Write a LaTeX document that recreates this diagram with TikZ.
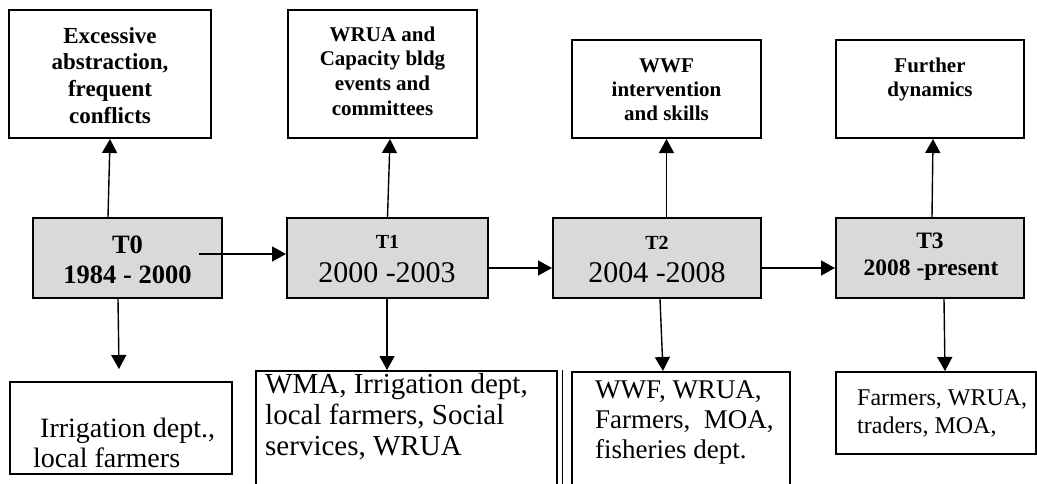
\documentclass[tikz,border=0pt]{standalone}
\usepackage{fontspec}
\setmainfont{Liberation Serif}
\usetikzlibrary{arrows.meta}
\begin{document}
\begin{tikzpicture}[x=1pt,y=-1pt,
  outbox/.style={draw=black, line width=2pt, inner sep=0pt},
  period/.style={outbox, fill=black!15, minimum height=80pt},
  link/.style={draw=black, line width=1.4pt, -{Triangle[length=14pt,width=15pt]}},
  ctxt/.style={inner sep=0pt, anchor=base},
  ltxt/.style={inner sep=0pt, anchor=base west}]
% canvas
\fill[white] (0,0) rectangle (1037,483);
\clip (0,0) rectangle (1037,483);

% outcome boxes (top row)
\node[outbox, minimum width=202pt, minimum height=128pt] (a1) at (110,74) {};
\node[outbox, minimum width=189pt, minimum height=128pt] (a2) at (382.5,74) {};
\node[outbox, minimum width=189pt, minimum height=98pt] (a3) at (666.5,89) {};
\node[outbox, minimum width=188pt, minimum height=98pt] (a4) at (930,89) {};
\node[ctxt, font=\fontsize{23}{26.7}\selectfont\bfseries] (a1t) at (110,43)
  {\parbox[t]{190pt}{\centering Excessive\\abstraction,\\frequent\\conflicts}};
\node[ctxt, font=\fontsize{21}{24.7}\selectfont\bfseries] (a2t) at (382.5,41)
  {\parbox[t]{180pt}{\centering WRUA and\\Capacity bldg\\events and\\committees}};
\node[ctxt, font=\fontsize{21}{24}\selectfont\bfseries] (a3t) at (666.5,72)
  {\parbox[t]{180pt}{\centering WWF\\intervention\\and skills}};
\node[ctxt, font=\fontsize{21}{24}\selectfont\bfseries] (a4t) at (930,72)
  {\parbox[t]{180pt}{\centering Further\\dynamics}};

% time periods (middle row)
\node[period, minimum width=189pt] (t0) at (127.5,258) {};
\node[period, minimum width=201pt] (t1) at (387.5,258) {};
\node[period, minimum width=208pt] (t2) at (657,258) {};
\node[period, minimum width=188pt] (t3) at (930,258) {};
\node[ctxt, font=\fontsize{26.5}{30}\selectfont\bfseries] (t0a) at (127.5,253) {T0};
\node[ctxt, font=\fontsize{26.5}{30}\selectfont\bfseries] (t0b) at (127.5,283) {1984 - 2000};
\node[ctxt, font=\fontsize{20}{24}\selectfont\bfseries] (t1a) at (387.5,248) {T1};
\node[ctxt, font=\fontsize{30}{34}\selectfont] (t1b) at (387,282) {2000 -2003};
\node[ctxt, font=\fontsize{20}{24}\selectfont\bfseries] (t2a) at (657,249) {T2};
\node[ctxt, font=\fontsize{30}{34}\selectfont] (t2b) at (657,282) {2004 -2008};
\node[ctxt, font=\fontsize{23.5}{27}\selectfont\bfseries] (t3a) at (930,248) {T3};
\node[ctxt, font=\fontsize{23.5}{27}\selectfont\bfseries] (t3b) at (931,275) {2008 -present};

% actor boxes (bottom row)
\node[outbox, minimum width=222pt, minimum height=92pt] (b1) at (121,428) {};
\node[outbox, minimum width=301pt, minimum height=130pt] (b2) at (406.5,436) {};
\node[outbox, minimum width=218pt, minimum height=130pt] (b3) at (681,437) {};
\node[outbox, minimum width=200pt, minimum height=82pt] (b4) at (936,413) {};
% second rule beside the right edge of the T1 actor box
\draw[line width=1.5pt] ([xshift=4.5pt]b2.north east) -- ([xshift=4.5pt]b2.south east);
\node[ltxt, font=\fontsize{28}{30}\selectfont] (b1t) at (33,437)
  {\parbox[t]{195pt}{\raggedright\hspace*{7pt}Irrigation dept.,\\local farmers}};
\node[ltxt, font=\fontsize{29}{31}\selectfont] (b2t) at (265,393)
  {\parbox[t]{290pt}{\raggedright WMA, Irrigation dept,\\local farmers, Social\\services, WRUA}};
\node[ltxt, font=\fontsize{27}{30}\selectfont] (b3t) at (595,398)
  {\parbox[t]{195pt}{\raggedright WWF, WRUA,\\Farmers,\ \ MOA,\\fisheries dept.}};
\node[ltxt, font=\fontsize{24}{28}\selectfont] (b4t) at (857,405)
  {\parbox[t]{180pt}{\raggedright Farmers, WRUA,\\traders, MOA,}};

% connectors: periods to outcomes
\draw[link] ([xshift=-19.5pt]t0.north) -- (a1.south);
\draw[link] (t1.north) -- ([xshift=7.5pt]a2.south);
\draw[link] ([xshift=9.5pt]t2.north) -- (a3.south);
\draw[link] ([xshift=2pt]t3.north) -- ([xshift=3pt]a4.south);

% connectors: periods to actors
\draw[link] ([xshift=-9.5pt]t0.south) -- ([xshift=-2pt,yshift=12pt]b1.north);
\draw[link] ([xshift=-0.5pt]t1.south) -- ([xshift=-19.5pt]b2.north);
\draw[link] ([xshift=3pt]t2.south) -- ([xshift=-18pt]b3.north);
\draw[link] ([xshift=14pt]t3.south) -- ([xshift=9pt]b4.north);

% connectors: timeline
\draw[link] ([xshift=-24pt,yshift=4pt]t0.east) -- ([yshift=4pt]t1.west);
\draw[link] ([yshift=-10pt]t1.east) -- ([yshift=-10pt]t2.west);
\draw[link] ([yshift=-10pt]t2.east) -- ([yshift=-10pt]t3.west);
\end{tikzpicture}
\end{document}
